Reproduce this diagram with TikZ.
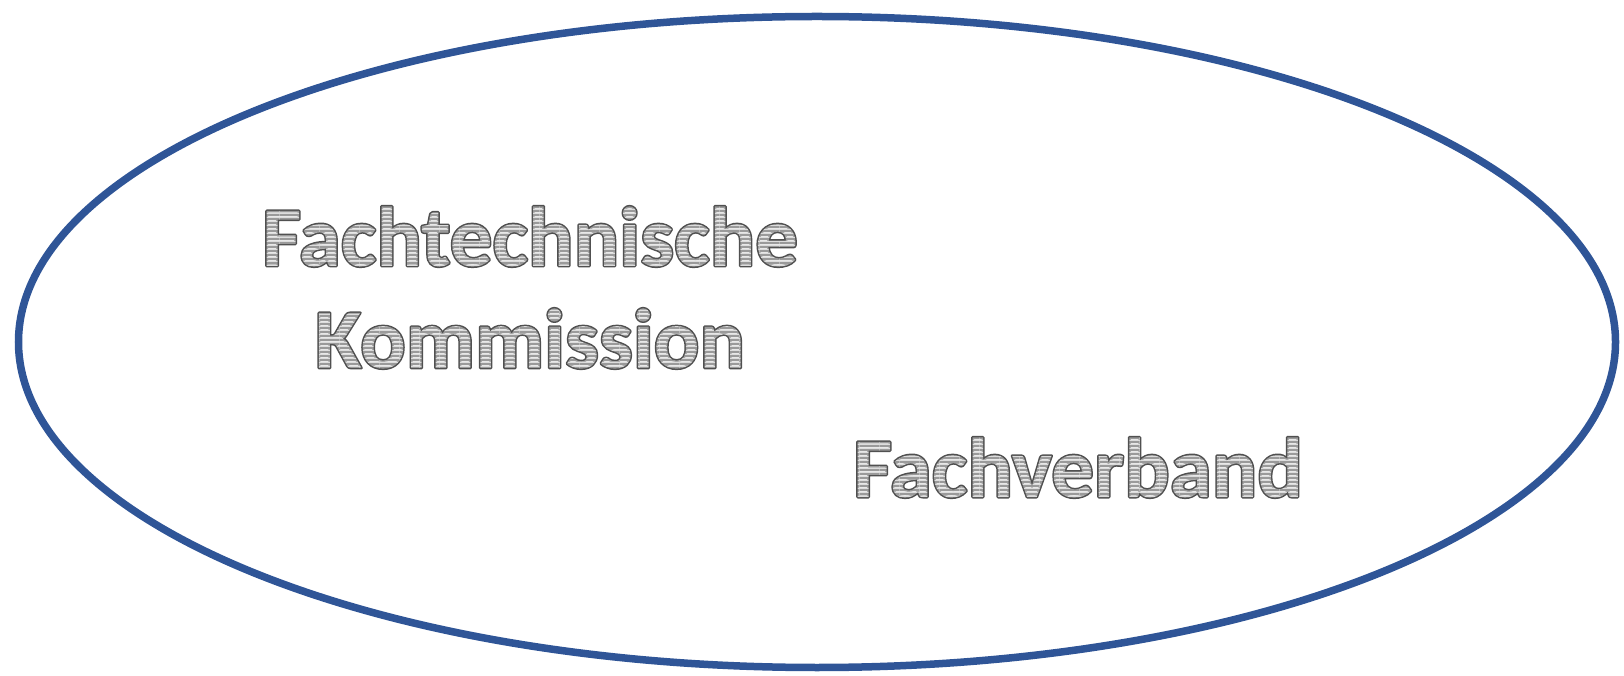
\documentclass[tikz,border=0pt]{standalone}
\usepackage{fontspec}
\setmainfont{Carlito}
\usetikzlibrary{shapes.geometric,patterns}

\definecolor{rimblue}{HTML}{2F5597}
\definecolor{stripelight}{HTML}{DCDCDC}
\definecolor{stripedark}{HTML}{9A9A9A}
\definecolor{letterline}{HTML}{505050}

% grey stripes for the letters
\pgfdeclarepatterninherentlycolored{letterstripes}{\pgfpointorigin}{\pgfqpoint{20pt}{4.2pt}}{\pgfqpoint{20pt}{4.2pt}}{%
  \pgfsetfillcolor{stripelight}%
  \pgfpathrectangle{\pgfpointorigin}{\pgfqpoint{20pt}{4.2pt}}%
  \pgfusepath{fill}%
  \pgfsetfillcolor{stripedark}%
  \pgfpathrectangle{\pgfpointorigin}{\pgfqpoint{20pt}{2.1pt}}%
  \pgfusepath{fill}%
}

\makeatletter
\newcommand\letterfill{\pgfsetfillpattern{letterstripes}{black}\pgfsetstrokecolor{letterline}\pgfsetlinewidth{3pt}\pgfsys@invoke{2 Tr 1 j}}
\makeatother

\tikzset{
  rim/.style={draw=rimblue, line width=7.5pt, ellipse, inner sep=0pt},
  stripetext/.style={font=\fontsize{85}{102}\selectfont\bfseries\letterfill, inner sep=0pt}
}

\begin{document}
\begin{tikzpicture}
  \useasboundingbox (0,0) rectangle (1624pt,675pt);

  \node (rand) [rim, minimum width=1597pt, minimum height=651pt] at (817pt,333pt) {};

  \node (kommission) [stripetext, align=center, anchor=base] at (530pt,307pt) {Fachtechnische\\Kommission};
  \node (fachverband) [stripetext, anchor=base] at (1078pt,178pt) {Fachverband};

\end{tikzpicture}
\end{document}
